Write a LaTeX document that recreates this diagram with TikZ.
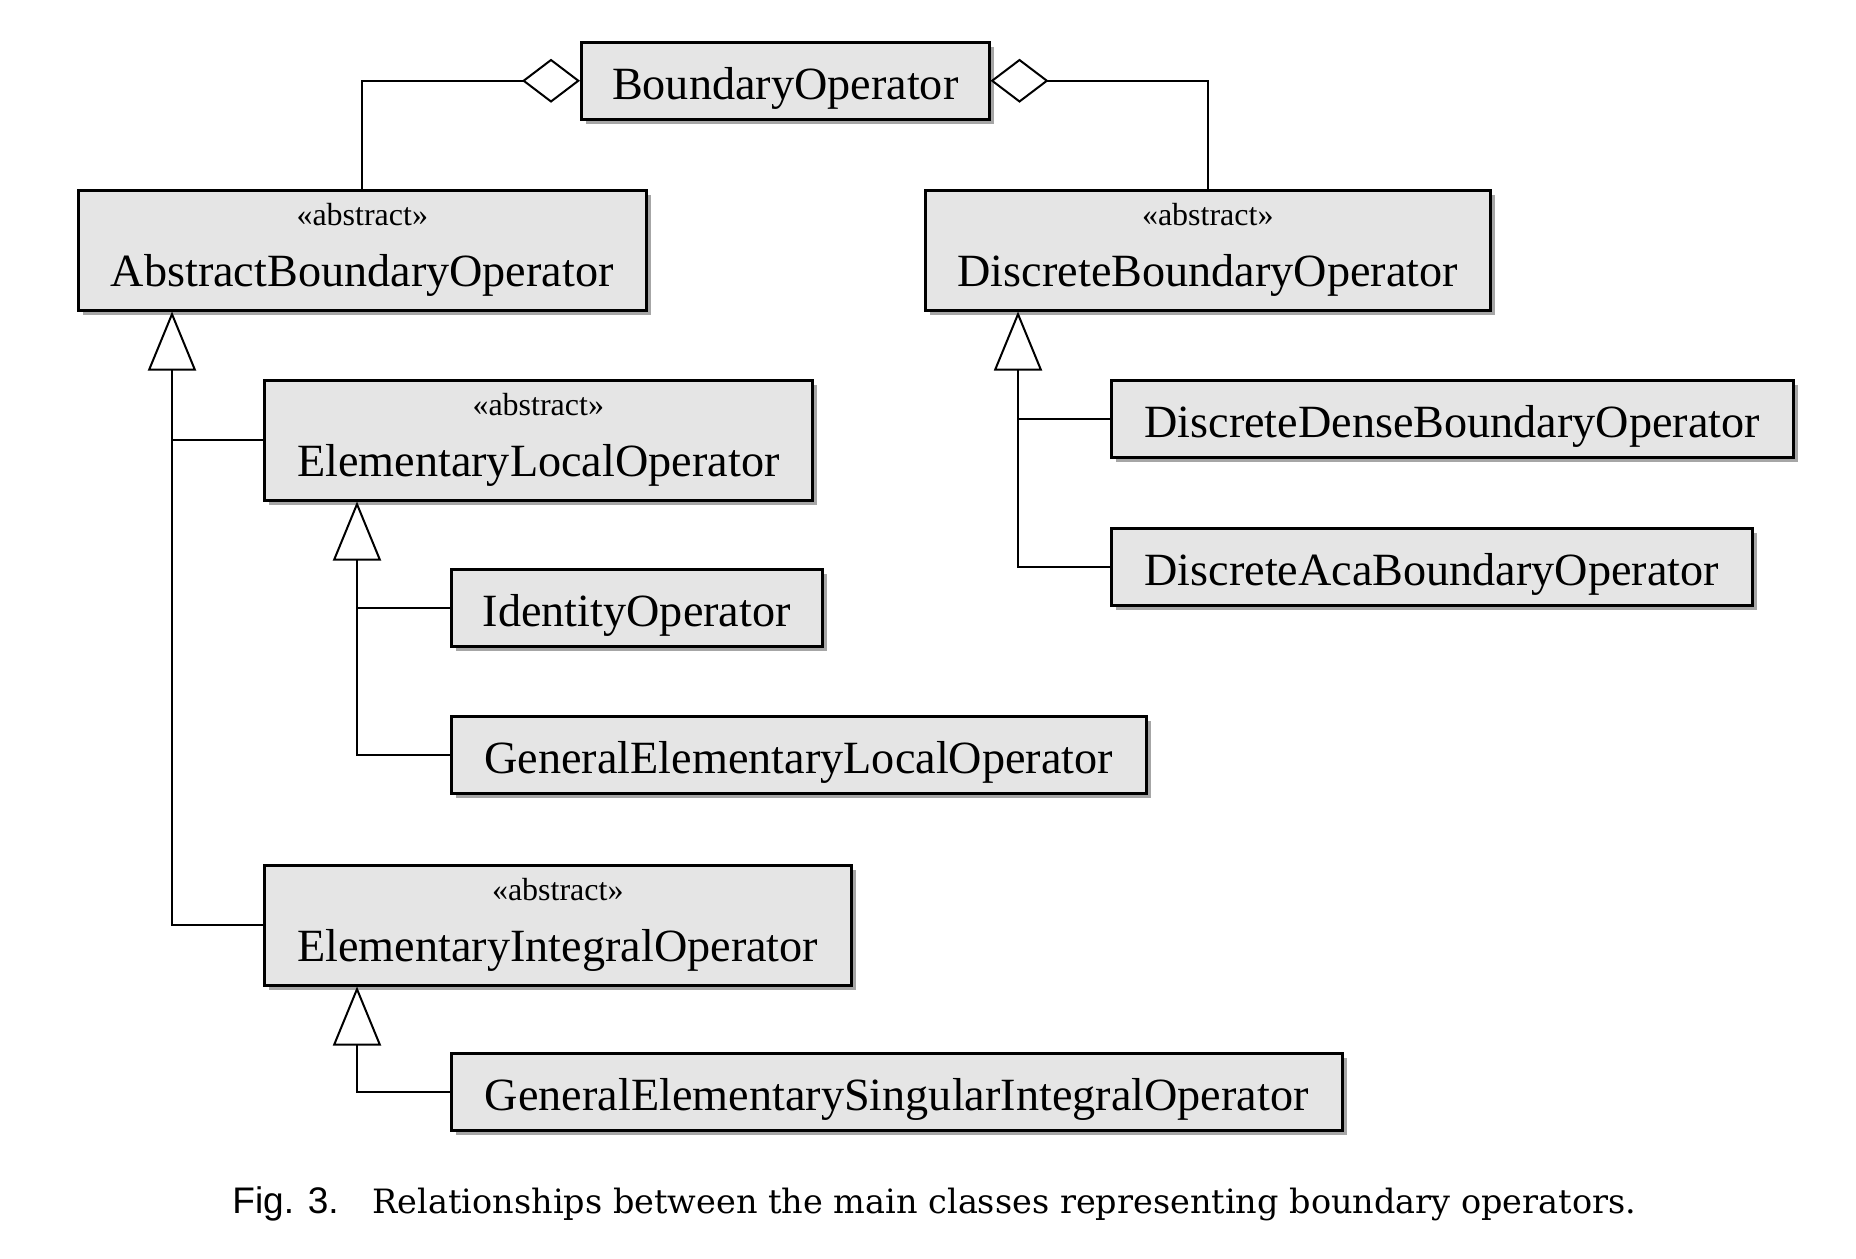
\documentclass[tikz,border=0pt]{standalone}
\usepackage{fontspec}
\setsansfont{Liberation Sans}
\newfontfamily\boxfont{Liberation Serif}
\newfontfamily\capfont{DejaVu Serif}
\usetikzlibrary{arrows.meta,shadows,calc}
\begin{document}
\begin{tikzpicture}[x=0.5pt,y=-0.5pt,
  cls/.style={draw=black, line width=1.25pt, fill=black!10, anchor=north west,
    inner xsep=0pt, inner ysep=0pt, font=\boxfont\fontsize{23.1}{28}\selectfont,
    drop shadow={shadow xshift=2.5pt, shadow yshift=-2.5pt, fill=black!35, opacity=1}},
  simple/.style={cls, minimum height=38.5pt, text height=28.5pt, text depth=10pt},
  abstr/.style={cls, minimum height=60pt, text height=48pt, text depth=12pt},
  stereo/.style={anchor=base, font=\boxfont\fontsize{16}{19}\selectfont, inner sep=0pt},
  link/.style={line width=1pt, draw=black},
  gen/.style={link, -{Triangle[open, length=29.5pt, width=24pt, line width=1pt]}},
  aggr/.style={link, -{Diamond[open, length=29pt, width=22pt, line width=1pt]}},
]
\useasboundingbox (0,0) rectangle (1856,1258);

\node[simple, minimum width=204pt] (bo) at (580,41) {BoundaryOperator};
\node[abstr, minimum width=284pt] (abo) at (77,189) {AbstractBoundaryOperator};
\node[stereo] (abos) at ([yshift=-18pt]abo.north) {«abstract»};
\node[abstr, minimum width=282.5pt] (dbo) at (924,189) {DiscreteBoundaryOperator};
\node[stereo] (dbos) at ([yshift=-18pt]dbo.north) {«abstract»};
\node[abstr, minimum width=274pt] (elo) at (263,379) {ElementaryLocalOperator};
\node[stereo] (elos) at ([yshift=-18pt]elo.north) {«abstract»};
\node[simple, minimum width=341pt] (ddbo) at (1110,379) {DiscreteDenseBoundaryOperator};
\node[simple, minimum width=320.5pt] (dabo) at (1110,527) {DiscreteAcaBoundaryOperator};
\node[simple, minimum width=185.5pt] (io) at (450,568) {IdentityOperator};
\node[simple, minimum width=347.5pt] (gelo) at (450,715) {GeneralElementaryLocalOperator};
\node[abstr, minimum width=293.5pt] (eio) at (263,864) {ElementaryIntegralOperator};
\node[stereo] (eios) at ([yshift=-18pt]eio.north) {«abstract»};
\node[simple, minimum width=445.5pt] (gesio) at (450,1052) {GeneralElementarySingularIntegralOperator};

\coordinate (t1) at ($(abo.south west)+(95,0)$);
\coordinate (t2) at ($(elo.south west)+(94,0)$);
\coordinate (t3) at ($(dbo.south west)+(94,0)$);
\coordinate (t4) at ($(eio.south west)+(94,0)$);

\draw[gen] (eio.west) -| (t1);
\draw[link] (elo.west) -- (elo.west -| t1);
\draw[gen] (gelo.west) -| (t2);
\draw[link] (io.west) -- (io.west -| t2);
\draw[gen] (dabo.west) -| (t3);
\draw[link] (ddbo.west) -- (ddbo.west -| t3);
\draw[gen] (gesio.west) -| (t4);
\draw[aggr] (abo.north) |- (bo.west);
\draw[aggr] (dbo.north) |- (bo.east);

\node[anchor=base west, inner sep=0pt, font=\fontsize{18.5}{22}\selectfont] (cap) at (232,1213)
  {{\sffamily Fig. 3.}\hspace{17pt}{\capfont\fontsize{16.75}{22}\selectfont Relationships between the main classes representing boundary operators.}};
\end{tikzpicture}
\end{document}
